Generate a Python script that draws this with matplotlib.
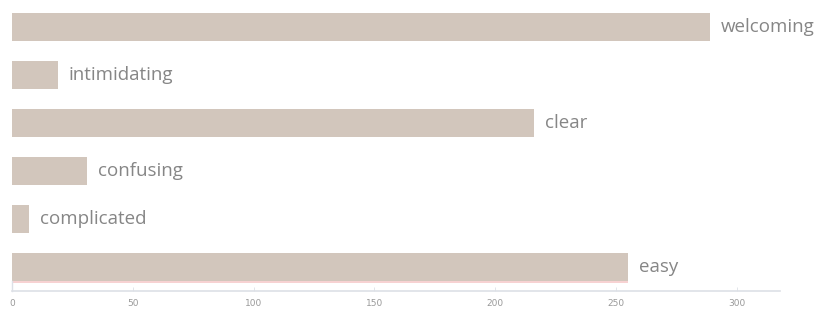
import matplotlib.pyplot as plt

# Word choices and how many times each was picked
words = ["welcoming", "intimidating", "clear", "confusing", "complicated", "easy"]
counts = [289, 19, 216, 31, 7, 255]
x_ticks = [0, 50, 100, 150, 200, 250, 300]

BAR_COLOR = "#d2c6bc"
TEXT_COLOR = "#868686"
AXIS_COLOR = "#dde0e6"

fig = plt.figure(figsize=(8.24, 3.09), dpi=100)
ax = fig.add_axes([12 / 824, 1 - 291 / 309, (780 - 12) / 824, 288 / 309])

y_pos = list(range(len(words)))
ax.barh(y_pos, counts, height=0.6, color=BAR_COLOR, zorder=2)

# Thin pink underline on the last bar
ax.hlines(y_pos[-1] + 0.31, 0, counts[-1], color="#f6c9c9", linewidth=1.2, zorder=1)

# Word labels just past the end of each bar
for y, (word, c) in zip(y_pos, zip(words, counts)):
    ax.text(c + 4.5, y, word, va="center", ha="left", fontsize=13.5,
            color=TEXT_COLOR, family=["Open Sans", "DejaVu Sans"])

ax.set_xlim(0, 318)
ax.set_ylim(len(words) - 0.5, -0.5)

ax.set_yticks([])
ax.set_xticks(x_ticks)
ax.set_xticklabels([str(t) for t in x_ticks], fontsize=6.5, color="#999999")
ax.tick_params(axis="x", length=3, width=0.6, color=AXIS_COLOR, pad=6, direction="in")

for side in ["top", "right"]:
    ax.spines[side].set_visible(False)
ax.spines["bottom"].set_color(AXIS_COLOR)
ax.spines["bottom"].set_linewidth(1.2)
ax.spines["left"].set_color(AXIS_COLOR)
ax.spines["left"].set_linewidth(1.0)
ax.spines["left"].set_bounds(len(words) - 0.7, len(words) - 0.5)

fig.savefig("out.png", dpi=100)
